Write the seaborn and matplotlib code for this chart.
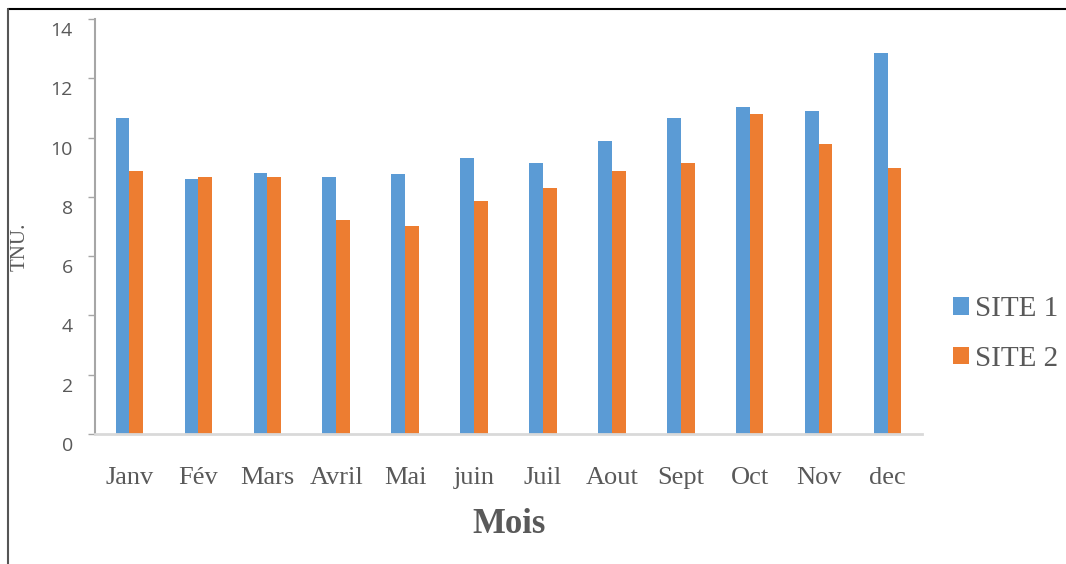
import matplotlib
matplotlib.use("Agg")
import matplotlib.pyplot as plt
import matplotlib.transforms as mtrans
from matplotlib.lines import Line2D
import seaborn as sns
import pandas as pd

months = ["Janv", "Fév", "Mars", "Avril", "Mai", "juin", "Juil", "Aout", "Sept", "Oct", "Nov", "dec"]
site1 = [10.66, 8.60, 8.81, 8.67, 8.77, 9.31, 9.14, 9.89, 10.66, 11.03, 10.90, 12.85]
site2 = [8.87, 8.67, 8.67, 7.22, 7.02, 7.86, 8.30, 8.87, 9.14, 10.80, 9.78, 8.97]
series = ["SITE 1", "SITE 2"]
yticks = [0, 2, 4, 6, 8, 10, 12, 14]

df = pd.DataFrame({
    "Mois": months * 2,
    "TNU": site1 + site2,
    "Site": [series[0]] * len(months) + [series[1]] * len(months),
})

sns.set_theme(style="white")
plt.rcParams["font.family"] = ["Liberation Serif", "DejaVu Serif"]

W, H = 1066, 564
fig = plt.figure(figsize=(W / 100, H / 100), dpi=100)
ax = fig.add_axes([95 / W, (H - 434) / H, (922 - 95) / W, (434 - 19) / H])

sns.barplot(data=df, x="Mois", y="TNU", hue="Site", order=months, hue_order=series,
            palette=["#5B9BD5", "#ED7D31"], width=0.4, gap=0, saturation=1,
            linewidth=0, edgecolor="none", ax=ax, legend=True)

ax.set_xlim(-0.5, len(months) - 0.5)
ax.set_ylim(0, 14)
ax.set_yticks(yticks)
ax.set_xlabel("")
ax.set_ylabel("")

for s in ["top", "right"]:
    ax.spines[s].set_visible(False)
ax.spines["left"].set_color("#a6a6a6")
ax.spines["left"].set_linewidth(1.5)
ax.spines["bottom"].set_color("#d9d9d9")
ax.spines["bottom"].set_linewidth(2)

ax.tick_params(axis="y", direction="out", length=5, width=1, color="#a6a6a6",
               pad=11, labelsize=14, labelcolor="#595959", left=True)
ax.tick_params(axis="x", length=0, pad=24, labelsize=19, labelcolor="#595959")
off = mtrans.ScaledTranslation(0, -10 / 100, fig.dpi_scale_trans)
for lab in ax.get_yticklabels():
    lab.set_fontfamily(["Open Sans", "DejaVu Sans"])
    lab.set_transform(lab.get_transform() + off)

handles, labels = ax.get_legend_handles_labels()
ax.get_legend().remove()
fig.legend(handles, labels, loc="center left", bbox_to_anchor=(953 / W, (H - 334) / H),
           frameon=False, fontsize=21, labelcolor="#595959",
           handlelength=0.55, handleheight=0.55, handletextpad=0.2, labelspacing=0.8,
           borderaxespad=0, borderpad=0)

fig.text(509 / W, (H - 533) / H, "Mois", ha="center", va="baseline",
         fontsize=25, fontweight="bold", color="#595959")
fig.text(20 / W, (H - 247) / H, "TNU.", ha="center", va="center", rotation=90,
         fontsize=15, color="#595959")

fig.add_artist(Line2D([8 / W, 1], [(H - 9) / H, (H - 9) / H], transform=fig.transFigure,
                      color="black", lw=1.5))
fig.add_artist(Line2D([8 / W, 8 / W], [0, (H - 9) / H], transform=fig.transFigure,
                      color="#555555", lw=1.5))

fig.savefig("out.png", dpi=100)
